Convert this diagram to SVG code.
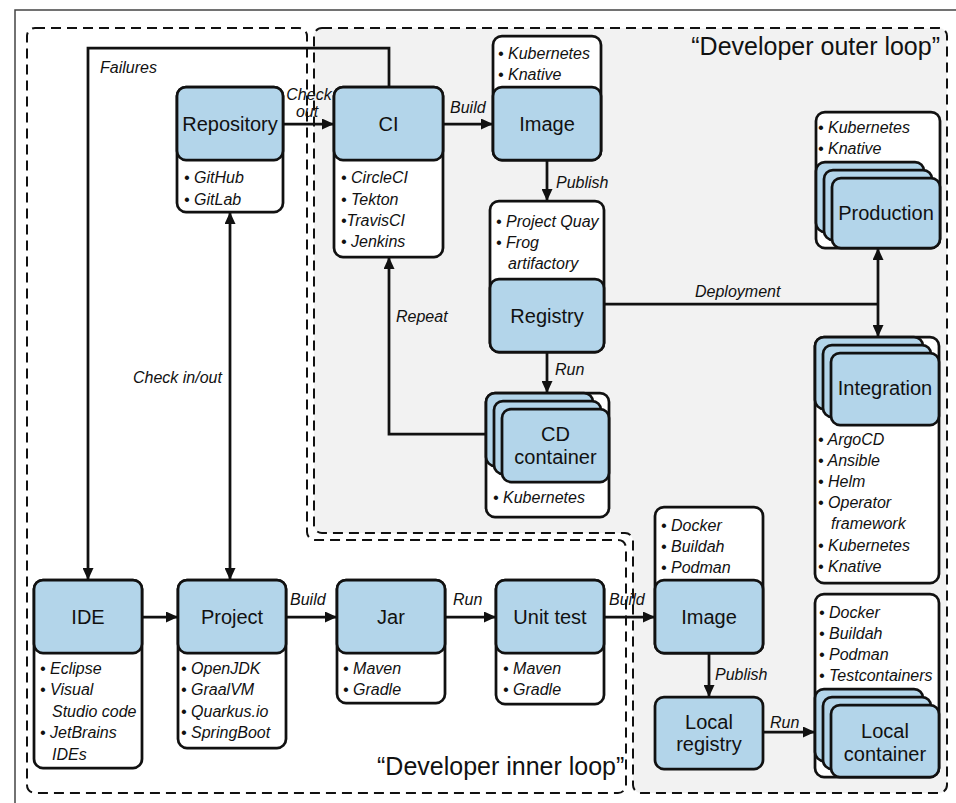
<svg xmlns="http://www.w3.org/2000/svg" width="956" height="803" viewBox="0 0 956 803">
<defs>
<style>
.n{fill:#b3d5ea;stroke:#111;stroke-width:2.75}
.w{fill:#fff;stroke:#111;stroke-width:2.75}
.lbl{font-family:"Liberation Sans",Arial,sans-serif;font-size:20px;text-anchor:middle;fill:#111}
.li{font-family:"Liberation Sans",Arial,sans-serif;font-size:16px;font-style:italic;fill:#111}
.el{font-family:"Liberation Sans",Arial,sans-serif;font-size:16px;font-style:italic;fill:#111}
.ttl{font-family:"Liberation Sans",Arial,sans-serif;font-size:25px;fill:#111}
.c{fill:none;stroke:#111;stroke-width:2.75}
.a{marker-end:url(#ah)}
.b{marker-start:url(#ah);marker-end:url(#ah)}
.rg{stroke:#111;stroke-width:2;stroke-dasharray:10 6}
</style>
<marker id="ah" markerUnits="userSpaceOnUse" markerWidth="12" markerHeight="11" refX="12" refY="5.5" orient="auto-start-reverse">
<path d="M0,0 L12,5.5 L0,11 z" fill="#111"/>
</marker>
</defs>
<rect x="0" y="0" width="956" height="803" fill="#fff"/>
<rect x="15" y="10" width="960" height="810" fill="none" stroke="#444" stroke-width="1.5"/>

<g id="regions">
<path id="outer-loop" class="rg" fill="#f2f2f2" d="M322,28 H939 A8,8 0 0 1 947,36 V785 A8,8 0 0 1 939,793 H641 A8,8 0 0 1 633,785 V541 A8,8 0 0 0 625,533 H322 A8,8 0 0 1 314,525 V36 A8,8 0 0 1 322,28 Z"/>
<path id="inner-loop" class="rg" fill="none" d="M35,28 H299 A8,8 0 0 1 307,36 V532 A8,8 0 0 0 315,540 H618 A8,8 0 0 1 626,548 V785 A8,8 0 0 1 618,793 H35 A8,8 0 0 1 27,785 V36 A8,8 0 0 1 35,28 Z"/>
<text class="ttl" x="940" y="55" text-anchor="end">“Developer outer loop”</text>
<text class="ttl" x="377" y="775">“Developer inner loop”</text>
</g>

<g id="connectors">
<polyline class="c a" points="389,87 389,48 88,48 88,580"/>
<text class="el" x="100" y="73">Failures</text>
<line class="c a" x1="283" y1="124" x2="334" y2="124"/>
<text class="el" x="309" y="100" text-anchor="middle">Check</text>
<text class="el" x="307" y="117" text-anchor="middle">out</text>
<line class="c a" x1="443" y1="124" x2="493" y2="124"/>
<text class="el" x="450" y="113">Build</text>
<line class="c a" x1="547" y1="160" x2="547" y2="201"/>
<text class="el" x="556" y="188">Publish</text>
<line class="c a" x1="547" y1="352" x2="547" y2="393"/>
<text class="el" x="555" y="375">Run</text>
<polyline class="c a" points="486,434 389,434 389,257"/>
<text class="el" x="396" y="322">Repeat</text>
<line class="c" x1="604" y1="304" x2="878" y2="304"/>
<text class="el" x="695" y="297">Deployment</text>
<line class="c b" x1="878" y1="248" x2="878" y2="337"/>
<line class="c b" x1="230" y1="212" x2="230" y2="580"/>
<text class="el" x="133" y="383">Check in/out</text>
<line class="c a" x1="142" y1="617" x2="178" y2="617"/>
<line class="c a" x1="286" y1="617" x2="337" y2="617"/>
<text class="el" x="290" y="605">Build</text>
<line class="c a" x1="445" y1="617" x2="496" y2="617"/>
<text class="el" x="453" y="605">Run</text>
<line class="c a" x1="604" y1="617" x2="655" y2="617"/>
<text class="el" x="609" y="605">Build</text>
<line class="c a" x1="709" y1="653" x2="709" y2="697"/>
<text class="el" x="715" y="680">Publish</text>
<line class="c a" x1="763" y1="732" x2="815" y2="732"/>
<text class="el" x="770" y="728">Run</text>
</g>

<g id="repository">
<rect class="w" x="177" y="87" width="106" height="125" rx="9"/>
<rect class="n" x="177" y="87" width="106" height="73" rx="9"/>
<text class="lbl" x="230" y="131">Repository</text>
<text class="li" x="184" y="183">• GitHub</text>
<text class="li" x="184" y="205">• GitLab</text>
</g>

<g id="ci">
<rect class="w" x="334" y="87" width="109" height="170" rx="9"/>
<rect class="n" x="334" y="87" width="109" height="73" rx="9"/>
<text class="lbl" x="388.5" y="131">CI</text>
<text class="li" x="341" y="183">• CircleCI</text>
<text class="li" x="341" y="205">• Tekton</text>
<text class="li" x="341" y="226">•TravisCI</text>
<text class="li" x="341" y="247">• Jenkins</text>
</g>

<g id="image-ci">
<rect class="w" x="493" y="36" width="108" height="124" rx="9"/>
<rect class="n" x="493" y="87" width="108" height="73" rx="9"/>
<text class="lbl" x="547" y="131">Image</text>
<text class="li" x="498" y="59">• Kubernetes</text>
<text class="li" x="498" y="80">• Knative</text>
</g>

<g id="registry">
<rect class="w" x="490" y="201" width="114" height="151" rx="9"/>
<rect class="n" x="490" y="279" width="114" height="73" rx="9"/>
<text class="lbl" x="547" y="323">Registry</text>
<text class="li" x="496" y="227">• Project Quay</text>
<text class="li" x="496" y="248">• Frog</text>
<text class="li" x="508" y="269">artifactory</text>
</g>

<g id="cd-container">
<rect class="w" x="486" y="393" width="123" height="124" rx="9"/>
<rect class="n" x="486" y="393" width="107" height="73" rx="9"/>
<rect class="n" x="494" y="401" width="107" height="73" rx="9"/>
<rect class="n" x="502" y="409" width="107" height="73" rx="9"/>
<text class="lbl" x="555.5" y="441">CD</text>
<text class="lbl" x="555.5" y="464">container</text>
<text class="li" x="493" y="503">• Kubernetes</text>
</g>

<g id="production">
<rect class="w" x="816" y="112" width="124" height="136" rx="9"/>
<rect class="n" x="816" y="162" width="108" height="70" rx="9"/>
<rect class="n" x="824" y="170" width="108" height="70" rx="9"/>
<rect class="n" x="832" y="178" width="108" height="70" rx="9"/>
<text class="lbl" x="886" y="220">Production</text>
<text class="li" x="818" y="133">• Kubernetes</text>
<text class="li" x="818" y="154">• Knative</text>
</g>

<g id="integration">
<rect class="w" x="815" y="337" width="124" height="246" rx="9"/>
<rect class="n" x="815" y="337" width="108" height="72" rx="9"/>
<rect class="n" x="823" y="345" width="108" height="72" rx="9"/>
<rect class="n" x="831" y="353" width="108" height="72" rx="9"/>
<text class="lbl" x="885" y="395">Integration</text>
<text class="li" x="818" y="445">• ArgoCD</text>
<text class="li" x="818" y="466">• Ansible</text>
<text class="li" x="818" y="487">• Helm</text>
<text class="li" x="818" y="508">• Operator</text>
<text class="li" x="831" y="529">framework</text>
<text class="li" x="818" y="551">• Kubernetes</text>
<text class="li" x="818" y="572">• Knative</text>
</g>

<g id="ide">
<rect class="w" x="34" y="580" width="108" height="188" rx="9"/>
<rect class="n" x="34" y="580" width="108" height="73" rx="9"/>
<text class="lbl" x="88" y="624">IDE</text>
<text class="li" x="40" y="674">• Eclipse</text>
<text class="li" x="40" y="695">• Visual</text>
<text class="li" x="52" y="717">Studio code</text>
<text class="li" x="40" y="738">• JetBrains</text>
<text class="li" x="52" y="760">IDEs</text>
</g>

<g id="project">
<rect class="w" x="178" y="580" width="108" height="168" rx="9"/>
<rect class="n" x="178" y="580" width="108" height="73" rx="9"/>
<text class="lbl" x="232" y="624">Project</text>
<text class="li" x="181" y="674">• OpenJDK</text>
<text class="li" x="181" y="695">• GraalVM</text>
<text class="li" x="181" y="717">• Quarkus.io</text>
<text class="li" x="181" y="738">• SpringBoot</text>
</g>

<g id="jar">
<rect class="w" x="337" y="580" width="108" height="123" rx="9"/>
<rect class="n" x="337" y="580" width="108" height="73" rx="9"/>
<text class="lbl" x="391" y="624">Jar</text>
<text class="li" x="343" y="674">• Maven</text>
<text class="li" x="343" y="695">• Gradle</text>
</g>

<g id="unit-test">
<rect class="w" x="496" y="580" width="108" height="124" rx="9"/>
<rect class="n" x="496" y="580" width="108" height="73" rx="9"/>
<text class="lbl" x="550" y="624">Unit test</text>
<text class="li" x="503" y="674">• Maven</text>
<text class="li" x="503" y="695">• Gradle</text>
</g>

<g id="image-local">
<rect class="w" x="655" y="507" width="108" height="146" rx="9"/>
<rect class="n" x="655" y="580" width="108" height="73" rx="9"/>
<text class="lbl" x="709" y="624">Image</text>
<text class="li" x="661" y="531">• Docker</text>
<text class="li" x="661" y="552">• Buildah</text>
<text class="li" x="661" y="573">• Podman</text>
</g>

<g id="local-registry">
<rect class="n" x="655" y="697" width="108" height="72" rx="9"/>
<text class="lbl" x="709" y="729">Local</text>
<text class="lbl" x="709" y="751">registry</text>
</g>

<g id="local-container">
<rect class="w" x="815" y="594" width="124" height="183" rx="9"/>
<rect class="n" x="815" y="689" width="108" height="72" rx="9"/>
<rect class="n" x="823" y="697" width="108" height="72" rx="9"/>
<rect class="n" x="831" y="705" width="108" height="72" rx="9"/>
<text class="lbl" x="885" y="738">Local</text>
<text class="lbl" x="885" y="761">container</text>
<text class="li" x="819" y="618">• Docker</text>
<text class="li" x="819" y="639">• Buildah</text>
<text class="li" x="819" y="660">• Podman</text>
<text class="li" x="819" y="681">• Testcontainers</text>
</g>
</svg>
